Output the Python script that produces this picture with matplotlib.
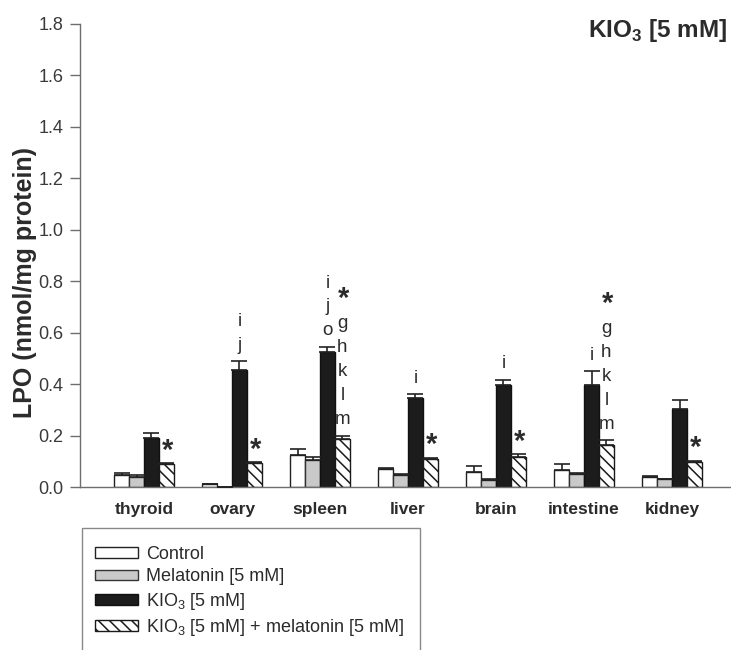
import matplotlib
matplotlib.use("Agg")
import matplotlib.pyplot as plt
import matplotlib.patches as mpatches
import numpy as np

plt.rcParams['font.family'] = ['Liberation Sans', 'DejaVu Sans']
plt.rcParams['mathtext.fontset'] = 'custom'
plt.rcParams['mathtext.rm'] = 'Liberation Sans'
plt.rcParams['mathtext.bf'] = 'Liberation Sans:bold'
plt.rcParams['hatch.linewidth'] = 1.1

# Tissues and measured LPO levels (nmol/mg protein), mean and upper SE
tissues = ["thyroid", "ovary", "spleen", "liver", "brain", "intestine", "kidney"]
series_names = ["Control", "Melatonin [5 mM]", "KIO$_3$ [5 mM]",
                "KIO$_3$ [5 mM] + melatonin [5 mM]"]

control = [0.045, 0.012, 0.124, 0.070, 0.060, 0.068, 0.037]
control_err = [0.010, 0.000, 0.024, 0.004, 0.022, 0.022, 0.004]
melatonin = [0.040, 0.000, 0.105, 0.047, 0.028, 0.050, 0.030]
melatonin_err = [0.008, 0.000, 0.010, 0.004, 0.004, 0.006, 0.003]
kio3 = [0.190, 0.455, 0.525, 0.346, 0.395, 0.395, 0.305]
kio3_err = [0.020, 0.035, 0.020, 0.014, 0.022, 0.055, 0.035]
kio3_mel = [0.090, 0.093, 0.187, 0.108, 0.118, 0.162, 0.098]
kio3_mel_err = [0.003, 0.003, 0.013, 0.006, 0.010, 0.020, 0.004]

# Significance marks stacked above bars, listed top to bottom
kio3_marks = {"ovary": ["i", "j"], "spleen": ["i", "j", "o"], "liver": ["i"],
              "brain": ["i"], "intestine": ["i"]}
kio3_mel_marks = {"thyroid": ["*"], "ovary": ["*"],
                  "spleen": ["*", "g", "h", "k", "l", "m"], "liver": ["*"],
                  "brain": ["*"], "intestine": ["*", "g", "h", "k", "l", "m"],
                  "kidney": ["*"]}

yticks = [0.0, 0.2, 0.4, 0.6, 0.8, 1.0, 1.2, 1.4, 1.6, 1.8]

W, H = 731, 650
fig = plt.figure(figsize=(W / 100, H / 100), dpi=100)
ax = fig.add_axes([80 / W, 1 - 487 / H, 1 - 80 / W, (487 - 24) / H])

axis_grey = "#6e6e6e"
text_dark = "#2b2b2b"

x = np.arange(len(tissues))
bw = 0.17
offsets = np.array([-1.5, -0.5, 0.5, 1.5]) * bw

values = [control, melatonin, kio3, kio3_mel]
errors = [control_err, melatonin_err, kio3_err, kio3_mel_err]
styles = [dict(color="white", edgecolor="#222222"),
          dict(color="#c9c9c9", edgecolor="#333333"),
          dict(color="#1c1c1c", edgecolor="#111111"),
          dict(color="white", edgecolor="#1a1a1a", hatch="\\\\\\")]

handles = []
for k in range(4):
    vals = np.array(values[k])
    errs = np.array(errors[k])
    bars = ax.bar(x + offsets[k], vals, width=bw, linewidth=1.0,
                  zorder=2, **styles[k])
    ax.errorbar(x + offsets[k], vals, yerr=[np.zeros_like(errs), errs],
                fmt="none", ecolor="#222222", elinewidth=1.2, capsize=6,
                capthick=1.2, zorder=3)
    handles.append(bars)

# stacked significance letters
first_gap = 0.062
step = 0.093


def draw_marks(marks_map, k):
    for tissue, marks in marks_map.items():
        i = tissues.index(tissue)
        base = values[k][i] + errors[k][i] + first_gap
        for j, m in enumerate(reversed(marks)):
            y = base + j * step
            xpos = x[i] + offsets[k]
            if m == "*":
                dy = -0.01 if j == 0 else 0.008
                ax.text(xpos + 0.01, y + dy, r"$\mathbf{*}$", ha="center",
                        va="center", fontsize=21, color=text_dark)
            else:
                ax.text(xpos, y, m, ha="center", va="center", fontsize=13.5,
                        color=text_dark)


draw_marks(kio3_marks, 2)
draw_marks(kio3_mel_marks, 3)

ax.set_xlim(-0.727, 6.67)
ax.set_ylim(0, 1.8)
ax.set_yticks(yticks)
ax.set_yticklabels([f"{t:.1f}" for t in yticks])
ax.set_xticks(x)
ax.set_xticklabels(tissues, fontsize=12.5, fontweight="bold", color=text_dark)
ax.tick_params(axis="x", length=0, pad=11)
ax.tick_params(axis="y", length=7, width=1, color=axis_grey, pad=5,
               labelsize=13, labelcolor="#3a3a3a")
for s in ["top", "right"]:
    ax.spines[s].set_visible(False)
for s in ["left", "bottom"]:
    ax.spines[s].set_color(axis_grey)
    ax.spines[s].set_linewidth(1.0)

ax.set_ylabel("LPO (nmol/mg protein)", fontsize=18, fontweight="bold",
              color=text_dark)
ax.yaxis.set_label_coords((37 - 80) / 651, (487 - 282) / 463)

fig.text(727 / W, 1 - 30 / H, r"KIO$_\mathbf{3}$ [5 mM]", ha="right",
         va="center", fontsize=17.5, fontweight="bold", color=text_dark)

# legend with an open-bottomed frame
frame = mpatches.Rectangle((82 / W, -0.05), (420 - 82) / W, 0.05 + (1 - 528 / H),
                           transform=fig.transFigure, fill=False,
                           edgecolor="#888888", linewidth=1.0)
fig.patches.append(frame)
leg = fig.legend(handles, series_names, loc="upper left",
                 bbox_to_anchor=(95 / W, 1 - 546 / H), frameon=False,
                 fontsize=13, handlelength=2.4, handleheight=0.55,
                 handletextpad=0.45, labelspacing=0.3, borderpad=0,
                 borderaxespad=0)
for t in leg.get_texts():
    t.set_color(text_dark)

fig.savefig("out.png", dpi=100)
